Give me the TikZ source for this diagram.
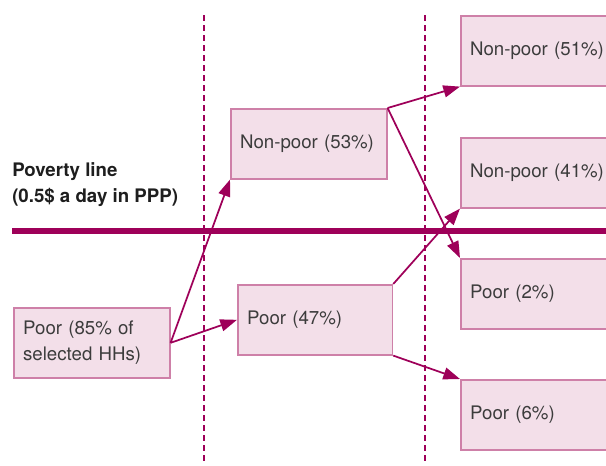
\documentclass[tikz,border=0pt]{standalone}
\usepackage{fontspec}
\setmainfont{TeX Gyre Heros}
\usetikzlibrary{arrows.meta}
\definecolor{plum}{RGB}{158,0,89}
\definecolor{boxfill}{RGB}{243,223,233}
\definecolor{boxline}{RGB}{206,128,168}
\definecolor{txt}{RGB}{60,60,60}
\tikzset{
  state/.style={draw=boxline, fill=boxfill, line width=1.2pt, anchor=north west,
    minimum height=52.5pt, text width=103pt, inner xsep=7pt, align=left,
    font=\fontsize{14}{20}\selectfont, text=txt},
  wide/.style={text width=140pt},
  flow/.style={plum, line width=1.3pt, -{Triangle[length=12.5pt,width=9pt]}},
  period/.style={plum, line width=1.5pt, dash pattern=on 4.5pt off 3pt}
}
\begin{document}
\begin{tikzpicture}[x=0.75pt,y=0.75pt,yscale=-1,xscale=1]
\clip (0,0) rectangle (606,465);

%Dashed Lines: survey rounds
\draw [period] (204,15) -- (204,465) ;
\draw [period] (425,15) -- (425,465) ;
%Straight Lines: poverty line
\draw [plum, line width=3.8pt] (12,231) -- (606,231) ;

% Text Node
\node (lbl) [anchor=west, align=left, inner sep=0pt, font=\bfseries\fontsize{14}{19.5}\selectfont, text={rgb,255:red,30;green,30;blue,30}] at (12,185) {Poverty line\\(0.5\$ a day in PPP)};

% State Nodes
\node (poorA) [state] at (13,307) {Poor (85\% of\\selected HHs)};
\node (npB) [state] at (230,108) {Non-poor (53\%)};
\node (poorB) [state, text width=102pt] at (237,284) {Poor (47\%)};
\node (npC) [state, wide] at (460,15) {Non-poor (51\%)};
\node (npD) [state, wide] at (460,137) {Non-poor (41\%)};
\node (poorC) [state, wide] at (460,258) {Poor (2\%)};
\node (poorD) [state, wide] at (460,379) {Poor (6\%)};

%Arrows
\draw [flow] (poorA.east) -- (npB.south west) ;
\draw [flow] (poorA.east) -- (poorB.west) ;
\draw [flow] (npB.north east) -- (npC.south west) ;
\draw [flow] (npB.north east) -- (poorC.north west) ;
\draw [flow] (poorB.north east) -- (npD.south west) ;
\draw [flow] (poorB.south east) -- (poorD.north west) ;

\end{tikzpicture}
\end{document}
